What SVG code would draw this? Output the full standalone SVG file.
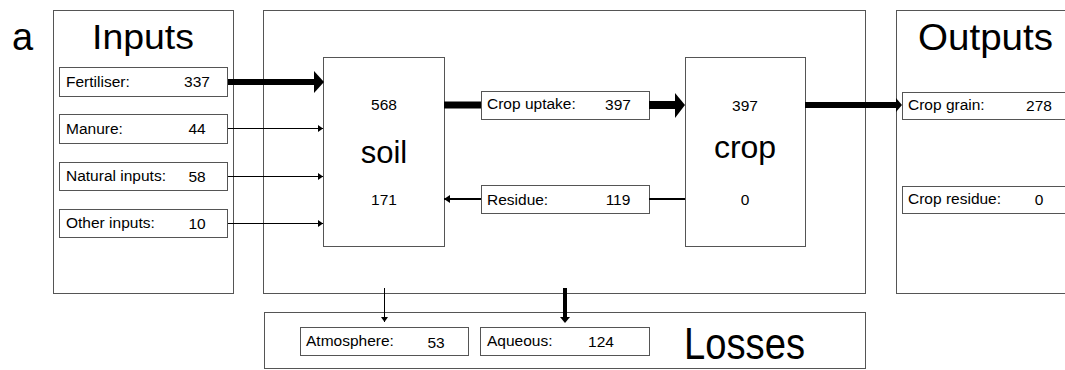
<svg xmlns="http://www.w3.org/2000/svg" width="1065" height="370" viewBox="0 0 1065 370">
<style>
.panel{fill:#fff;stroke:#555;stroke-width:1}
.box{fill:#fff;stroke:#555;stroke-width:1}
.t{font-family:"Liberation Sans",Arial,sans-serif;font-size:15.5px;fill:#000}
.v{font-family:"Liberation Sans",Arial,sans-serif;font-size:15.5px;fill:#000;text-anchor:middle}
.big{font-family:"Liberation Sans",Arial,sans-serif;fill:#000}
.ln{stroke:#000;fill:none}
</style>
<defs>
<marker id="ah" markerUnits="userSpaceOnUse" markerWidth="5" markerHeight="7" refX="5" refY="3.5" orient="auto">
<path d="M0,0 L5,3.5 L0,7 z" fill="#000"/>
</marker>
<marker id="ahm" markerUnits="userSpaceOnUse" markerWidth="6" markerHeight="8" refX="6" refY="4" orient="auto">
<path d="M0,0 L6,4 L0,8 z" fill="#000"/>
</marker>
</defs>
<rect width="1065" height="370" fill="#fff"/>
<text class="big" x="12" y="50" font-size="38">a</text>

<g id="inputs">
<rect class="panel" x="53.5" y="10.5" width="180" height="283"/>
<text class="big" x="92" y="49" font-size="35" textLength="102" lengthAdjust="spacingAndGlyphs">Inputs</text>
</g>
<g id="fertiliser"><rect class="box" x="59.5" y="67.5" width="168" height="29"/><text class="t" x="66" y="87">Fertiliser:</text><text class="v" x="197" y="87">337</text></g>
<g id="manure"><rect class="box" x="59.5" y="114.5" width="168" height="29"/><text class="t" x="66" y="134">Manure:</text><text class="v" x="197" y="134">44</text></g>
<g id="natural"><rect class="box" x="59.5" y="162.5" width="168" height="28"/><text class="t" x="66" y="181">Natural inputs:</text><text class="v" x="197" y="182">58</text></g>
<g id="other"><rect class="box" x="59.5" y="209.5" width="168" height="28"/><text class="t" x="66" y="228">Other inputs:</text><text class="v" x="197" y="229">10</text></g>

<g id="system"><rect class="panel" x="263.5" y="10.5" width="602" height="283"/></g>
<g id="soil">
<rect class="box" x="323.5" y="57.5" width="121" height="189"/>
<text class="v" x="384" y="110">568</text>
<text class="big" x="384" y="163" font-size="31" text-anchor="middle">soil</text>
<text class="v" x="384" y="205">171</text>
</g>
<g id="crop">
<rect class="box" x="685.5" y="57.5" width="120" height="189"/>
<text class="v" x="745" y="111">397</text>
<text class="big" x="745" y="158" font-size="32" text-anchor="middle">crop</text>
<text class="v" x="745" y="205">0</text>
</g>
<g id="uptake"><rect class="box" x="481.5" y="91.5" width="168" height="28"/><text class="t" x="487" y="109">Crop uptake:</text><text class="v" x="618" y="110">397</text></g>
<g id="residue"><rect class="box" x="481.5" y="185.5" width="168" height="28"/><text class="t" x="487" y="205">Residue:</text><text class="v" x="618" y="205">119</text></g>

<g id="outputs">
<rect class="panel" x="896.5" y="10.5" width="180" height="283"/>
<text class="big" x="918" y="50" font-size="37" textLength="135" lengthAdjust="spacingAndGlyphs">Outputs</text>
</g>
<g id="grain"><rect class="box" x="902.5" y="92.5" width="180" height="27"/><text class="t" x="908" y="110">Crop grain:</text><text class="v" x="1039" y="111">278</text></g>
<g id="cropresidue"><rect class="box" x="902.5" y="186.5" width="180" height="27"/><text class="t" x="908" y="204">Crop residue:</text><text class="v" x="1039" y="205">0</text></g>

<g id="losses">
<rect class="panel" x="264.5" y="312.5" width="601" height="56"/>
<text class="big" x="684" y="359" font-size="44" textLength="121" lengthAdjust="spacingAndGlyphs">Losses</text>
</g>
<g id="atmosphere"><rect class="box" x="300.5" y="327.5" width="168" height="28"/><text class="t" x="306" y="346">Atmosphere:</text><text class="v" x="436" y="348">53</text></g>
<g id="aqueous"><rect class="box" x="480.5" y="327.5" width="169" height="28"/><text class="t" x="487" y="346">Aqueous:</text><text class="v" x="601" y="347">124</text></g>

<g id="connectors">
<line class="ln" x1="228" y1="82" x2="315" y2="82" stroke-width="6"/>
<polygon points="314,71 324,82 314,93" fill="#000"/>
<line class="ln" x1="228" y1="128.5" x2="323" y2="128.5" stroke-width="1" marker-end="url(#ah)"/>
<line class="ln" x1="228" y1="176.5" x2="323" y2="176.5" stroke-width="1" marker-end="url(#ah)"/>
<line class="ln" x1="228" y1="223.5" x2="323" y2="223.5" stroke-width="1" marker-end="url(#ah)"/>
<line class="ln" x1="444" y1="105" x2="481" y2="105" stroke-width="7"/>
<line class="ln" x1="649" y1="105" x2="676" y2="105" stroke-width="8"/>
<polygon points="675,93 685,105 675,118" fill="#000"/>
<line class="ln" x1="805" y1="105" x2="897" y2="105" stroke-width="6"/>
<polygon points="896,98 902,105 896,112" fill="#000"/>
<line class="ln" x1="685" y1="199" x2="649" y2="199" stroke-width="2"/>
<line class="ln" x1="481" y1="199" x2="444" y2="199" stroke-width="2" marker-end="url(#ahm)"/>
<line class="ln" x1="384.5" y1="288" x2="384.5" y2="322" stroke-width="1" marker-end="url(#ah)"/>
<line class="ln" x1="565" y1="288" x2="565" y2="317" stroke-width="4"/>
<polygon points="560,317 570,317 565,323" fill="#000"/>
</g>
</svg>
